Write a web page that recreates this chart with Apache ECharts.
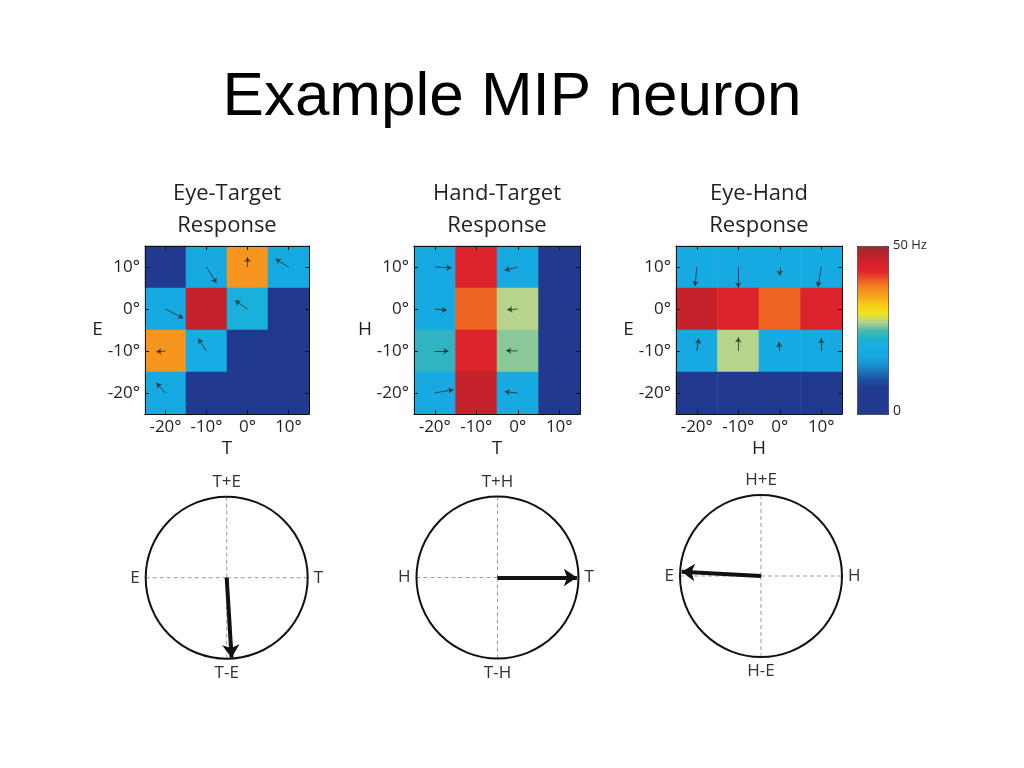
<!DOCTYPE html>
<html><head><meta charset="utf-8">
<script src="https://cdn.jsdelivr.net/npm/echarts@6/dist/echarts.min.js"></script>
<style>html,body{margin:0;padding:0;background:#fff}#c{width:1024px;height:768px}</style>
</head><body><div id="c"></div>
<script>
// ---------- data ----------
const tickLabels = ['-20°', '-10°', '0°', '10°'];
const panelTitles = ['Eye-Target\nResponse', 'Hand-Target\nResponse', 'Eye-Hand\nResponse'];
const xNames = ['T', 'T', 'H'];
const yNames = ['E', 'H', 'E'];
// firing rate (Hz); rows from top (10°) to bottom (-20°), columns -20°..10°
const eyeTarget = [
  [2, 18, 36.5, 18],
  [18, 46.5, 21, 2],
  [36.5, 19.5, 2, 2],
  [18, 2, 2, 2]
];
const handTarget = [
  [18, 44, 18, 2.5],
  [18, 39.5, 27.5, 2.5],
  [23.5, 44, 26.5, 2.5],
  [18, 46.5, 18, 2.5]
];
const eyeHand = [
  [18.5, 17.5, 18, 18.5],
  [46.5, 44, 39.5, 44],
  [18, 27.5, 18.5, 18],
  [2, 2, 2, 2]
];
// gradient vectors per cell: [x, y, dx, dy] in degrees
const eyeTargetVec = [
  [-10, 10, 2.4, -3.8], [0, 10, 0, 2.3], [10, 10, -3.1, 1.9],
  [-20, 0, 4.3, -2.2], [0, 0, -3, 2],
  [-20, -10, -2.2, -0.2], [-10, -10, -2, 2.9],
  [-20, -20, -2.2, 2.4]
];
const handTargetVec = [
  [-20, 10, 4, -0.2], [0, 10, -3.1, -0.8],
  [-20, 0, 2.9, -0.3], [0, 0, -2.5, -0.2],
  [-20, -10, 3.3, 0], [0, -10, -2.8, 0.1],
  [-20, -20, 4.5, 0.8], [0, -20, -3.1, 0.3]
];
const eyeHandVec = [
  [-20, 10, -0.4, -4.5], [-10, 10, 0, -4.9], [0, 10, 0, -2], [10, 10, -0.8, -4.7],
  [-20, -10, 0.5, 2.9], [-10, -10, 0, 3.2], [0, -10, -0.2, 2.1], [10, -10, 0, 3]
];
const circleLabels = [
  ['T', 'T+E', 'E', 'T-E'],
  ['T', 'T+H', 'H', 'T-H'],
  ['H', 'H+E', 'E', 'H-E']
];
const arrowAngles = [273.5, 0, 177];   // degrees, counter-clockwise from the right
const arrowLengths = [0.99, 0.98, 0.98];
const colorMin = 0, colorMax = 50;
const jet = ['#213a8f','#213a8f','#213a8f','#213b90','#1f4c9f','#1c6fb6','#1895d3','#17a9e2','#17aee4','#1db2d0',
  '#4bb8ab','#b6d48c','#f0e21f','#f9cf16','#f7a71c','#f58b1f','#ee5a24','#e4262a','#d6202a','#b9242b','#a5282d'];

// ---------- layout ----------
const maps = [eyeTarget, handTarget, eyeHand];
const vecs = [eyeTargetVec, handTargetVec, eyeHandVec];
const panels = [{ left: 145, width: 164 }, { left: 414, width: 166 }, { left: 676, width: 166 }];
const pTop = 246, pHeight = 168;
const circles = [{ cx: 226.7, cy: 577.7 }, { cx: 497.5, cy: 577.5 }, { cx: 761, cy: 576 }];
const R = 81;
const ink = '#231f20';
const sans = 'Open Sans';

const grid = [], xAxis = [], yAxis = [], series = [], title = [], polar = [], angleAxis = [], radiusAxis = [];

title.push({ text: 'Example MIP neuron', left: 512, top: 67, textAlign: 'center', padding: 0,
  textStyle: { fontFamily: 'Liberation Sans', fontSize: 62, fontWeight: 'normal', color: '#000' } });

panels.forEach((p, i) => {
  const gHeat = grid.length;
  grid.push({ left: p.left, top: pTop, width: p.width, height: pHeight });
  const gVec = grid.length;
  grid.push({ left: p.left, top: pTop, width: p.width, height: pHeight });
  title.push({ text: panelTitles[i], left: p.left + p.width / 2, top: 178, textAlign: 'center', padding: 0,
    textStyle: { fontFamily: sans, fontSize: 22, lineHeight: 32, fontWeight: 'normal', color: ink } });

  const catAxis = (pos, showLabel, extra) => Object.assign({
    type: 'category', data: tickLabels, gridIndex: gHeat, position: pos, z: 10,
    axisLine: { show: true, lineStyle: { color: '#111', width: 1 } },
    axisTick: { show: true, inside: true, alignWithLabel: true, interval: 0, length: 4, lineStyle: { color: '#111' } },
    axisLabel: { show: showLabel, interval: 0, fontFamily: sans, fontSize: 17, color: ink, margin: 5 },
    splitLine: { show: false }
  }, extra || {});
  const xb = xAxis.length;
  xAxis.push(catAxis('bottom', true, { name: xNames[i], nameLocation: 'middle', nameGap: 25,
    nameTextStyle: { fontFamily: sans, fontSize: 19, color: ink } }));
  xAxis.push(catAxis('top', false));
  const yl = yAxis.length;
  yAxis.push(catAxis('left', true, { name: yNames[i], nameLocation: 'middle', nameRotate: 0, nameGap: 37,
    nameTextStyle: { fontFamily: sans, fontSize: 19, color: ink } }));
  yAxis.push(catAxis('right', false));

  const xv = xAxis.length;
  xAxis.push({ type: 'value', gridIndex: gVec, min: -25, max: 15, show: false });
  const yv = yAxis.length;
  yAxis.push({ type: 'value', gridIndex: gVec, min: -25, max: 15, show: false });

  const data = [];
  maps[i].forEach((row, r) => row.forEach((v, c) => data.push([c, 3 - r, v])));
  series.push({ type: 'heatmap', xAxisIndex: xb, yAxisIndex: yl, data: data, silent: true,
    itemStyle: { borderWidth: 0 }, emphasis: { disabled: true } });

  series.push({ type: 'lines', coordinateSystem: 'cartesian2d', xAxisIndex: xv, yAxisIndex: yv, silent: true, z: 5,
    symbol: ['none', 'arrow'], symbolSize: 5,
    lineStyle: { color: '#222', width: 1, opacity: 0.75 },
    data: vecs[i].map(([x, y, dx, dy]) => ({ coords: [[x, y], [x + dx, y + dy]] })) });
});

circles.forEach((c, i) => {
  polar.push({ center: [c.cx, c.cy], radius: R });
  angleAxis.push({ polarIndex: i, type: 'value', min: 0, max: 360, interval: 90, startAngle: 0, clockwise: false,
    axisLine: { show: true, lineStyle: { color: '#111', width: 2 } },
    axisTick: { show: false },
    axisLabel: { show: true, margin: 6, fontFamily: sans, fontSize: 17, color: '#333',
      formatter: v => (v >= 360 ? '' : circleLabels[i][Math.round(v / 90)]) },
    splitLine: { show: true, lineStyle: { color: '#999', width: 1, type: [4, 3] } } });
  radiusAxis.push({ polarIndex: i, min: 0, max: 1, axisLine: { show: false }, axisTick: { show: false },
    axisLabel: { show: false }, splitLine: { show: false } });

  const g = grid.length;
  grid.push({ left: c.cx - R, top: c.cy - R, width: 2 * R, height: 2 * R });
  const xa = xAxis.length;
  xAxis.push({ type: 'value', gridIndex: g, min: -1, max: 1, show: false });
  const ya = yAxis.length;
  yAxis.push({ type: 'value', gridIndex: g, min: -1, max: 1, show: false });
  const a = arrowAngles[i] * Math.PI / 180, L = arrowLengths[i];
  series.push({ type: 'lines', coordinateSystem: 'cartesian2d', xAxisIndex: xa, yAxisIndex: ya, silent: true, z: 6,
    symbol: ['none', 'arrow'], symbolSize: 13,
    lineStyle: { color: '#111', width: 4, opacity: 1 },
    data: [{ coords: [[0, 0], [L * Math.cos(a), L * Math.sin(a)]] }] });
});

title.push({ text: colorMax + ' Hz', left: 893, top: 239, padding: 0,
  textStyle: { fontFamily: sans, fontSize: 13, fontWeight: 'normal', color: ink } });
title.push({ text: String(colorMin), left: 893, top: 404, padding: 0,
  textStyle: { fontFamily: sans, fontSize: 14, fontWeight: 'normal', color: ink } });

const chart = echarts.init(document.getElementById('c'), null, { renderer: 'canvas' });
chart.setOption({
  backgroundColor: '#fff',
  animation: false,
  title, grid, xAxis, yAxis, polar, angleAxis, radiusAxis,
  visualMap: {
    type: 'continuous', min: colorMin, max: colorMax, seriesIndex: [0, 2, 4],
    orient: 'vertical', left: 857, top: 246, itemWidth: 31, itemHeight: 168,
    calculable: false, hoverLink: false, padding: 0, borderWidth: 1, borderColor: '#333',
    inRange: { color: jet }
  },
  series
});
</script></body></html>
